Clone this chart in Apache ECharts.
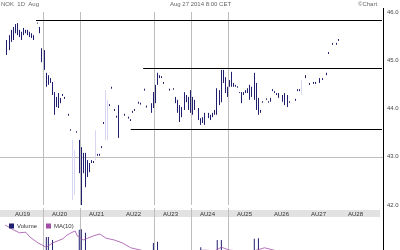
<!DOCTYPE html>
<html><head><meta charset="utf-8">
<script src="https://cdn.jsdelivr.net/npm/echarts@6/dist/echarts.min.js"></script>
<style>html,body{margin:0;padding:0;background:#fff}#c{width:400px;height:250px}</style>
</head><body><div id="c"></div>
<script>
// ---- data ----
const slotCount = 186;              // intraday time slots
const gridSlots = [21, 39, 75, 93, 111];
const dayLabels = ['AU19','AU20','AU21','AU22','AU23','AU24','AU25','AU26','AU27','AU28'];
const yTickLabels = {42:'42.0',43:'43.0',44:'44.0',45:'45.0',46:'46.0'};

const priceSlot = [3,4,5,6,7,8,9,10,11,12,13,14,15,16,18,19,20,21,22,23,24,25,26,27,28,29,30,31,33,34,37,
 38,39,40,41,42,43,44,45,47,48,49,50,53,54,55,56,57,60,62,63,64,65,67,68,70,71,73,74,75,76,77,78,79,82,84,
 85,86,87,88,89,90,91,92,93,94,96,97,98,99,101,102,103,104,105,106,107,108,109,110,111,112,113,114,115,116,
 117,118,119,120,121,122,123,124,125,126,127,129,130,131,132,133,134,135,137,138,139,140,143,144,145,148,
 150,152,153,155,156,158,159,161,163,164];
const priceLow = [45.11,45.21,45.38,45.42,45.56,45.52,45.48,45.42,45.52,45.56,45.52,45.48,45.46,45.42,45.76,45.56,44.96,44.80,44.45,44.49,44.53,44.28,43.87,44.03,44.01,44.11,44.26,44.20,43.85,43.54,43.50,
 42.66,42.00,42.66,42.37,42.58,42.68,42.87,42.87,43.02,43.02,43.18,43.68,44.05,44.41,43.95,43.81,43.39,43.85,43.79,43.74,43.91,43.95,44.10,44.08,44.37,44.02,43.91,44.01,44.11,44.49,44.63,44.63,44.51,44.37,44.39,
 44.11,43.91,43.72,43.82,43.97,44.13,43.97,43.91,43.87,43.97,43.76,43.66,43.70,43.66,43.80,43.76,43.82,43.87,43.87,44.07,44.13,44.53,44.32,44.24,44.45,44.45,44.45,44.45,44.43,44.32,
 44.11,44.28,44.32,44.32,44.18,44.24,44.18,43.97,43.87,43.91,44.12,44.18,44.12,44.14,44.36,44.32,44.28,44.22,44.14,44.07,44.03,44.12,44.16,44.36,44.36,44.63,
 44.49,44.51,44.51,44.53,44.59,44.69,45.13,45.32,45.32,45.40];
const priceHigh = [45.42,45.52,45.63,45.69,45.75,45.77,45.63,45.59,45.67,45.63,45.63,45.59,45.56,45.52,45.78,45.69,45.25,45.21,44.74,44.69,44.63,44.55,44.34,44.24,44.32,44.22,44.30,44.24,43.89,43.57,43.53,
 43.35,43.20,43.08,43.08,42.93,42.87,42.93,42.91,43.06,43.06,43.22,43.72,44.09,44.45,43.99,43.85,44.07,43.89,43.83,43.78,43.95,43.99,44.14,44.12,44.41,44.06,44.11,44.34,44.49,44.74,44.69,44.67,44.55,44.41,44.42,
 44.24,44.18,44.07,44.03,44.34,44.28,44.24,44.38,44.24,44.18,44.01,43.80,43.82,43.91,43.91,43.87,43.91,43.97,44.42,44.38,44.80,44.80,44.65,44.45,44.59,44.76,44.53,44.49,44.46,44.34,
 44.34,44.34,44.38,44.42,44.49,44.45,44.74,44.53,44.22,43.97,44.15,44.21,44.15,44.22,44.40,44.36,44.32,44.32,44.28,44.32,44.28,44.15,44.20,44.40,44.40,44.69,
 44.53,44.55,44.55,44.63,44.63,44.74,45.17,45.36,45.36,45.44];

// faint (light) price bars
const faintSlot = [35, 36, 46, 51, 52, 146];
const faintLow  = [42.10, 42.21, 42.93, 43.35, 43.35, 44.28];
const faintHigh = [43.35, 43.14, 43.55, 44.38, 44.18, 44.59];

// support / resistance levels
const levels = [
  {from: 17, value: 45.83},
  {from: 69, value: 44.84},
  {from: 63, value: 43.58}
];

// volume
const volSlot = [22, 23, 25, 38, 39, 41, 74, 76, 97, 105, 107, 123, 125];
const volValue = [80, 80, 75, 92, 93, 87, 70, 72, 63, 75, 75, 77, 78];
// moving average of volume
const maSlot = [2, 6, 9, 12, 14, 18, 22, 25, 30, 32, 34, 36, 37, 40, 42, 45, 48, 51, 55, 59, 63, 68, 72, 82, 99, 104, 107, 111, 121, 128, 136, 145, 165];
const maValue = [100, 92, 87, 88, 80, 70, 63, 70, 77, 83, 87, 90, 82, 75, 78, 82, 85, 78, 75, 70, 62, 58, 55, 55, 58, 57, 63, 58, 55, 62, 55, 50, 50];

// ---- build ----
const cats = Array.from({length: slotCount}, (_, i) => String(i));
function fillOHLC(slots, lo, hi) {
  const a = cats.map(() => '-');
  slots.forEach((s, i) => { a[s] = [lo[i], hi[i], lo[i], hi[i]]; });
  return a;
}
function fillVal(slots, vals) {
  const a = cats.map(() => null);
  slots.forEach((s, i) => { a[s] = vals[i]; });
  return a;
}
const navy = '#1f1f6e', faint = '#d6d6f2', purple = '#a24ea8', grid = '#bdbdbd';
const splitFn = (idx) => gridSlots.indexOf(idx) >= 0;
const font = 'Liberation Sans, Arial, sans-serif';

const chart = echarts.init(document.getElementById('c'), null, {renderer: 'canvas'});
chart.setOption({
  animation: false,
  textStyle: {fontFamily: font},
  grid: [
    {left: 0, width: 383, top: 12, height: 193, outerBoundsMode: 'none'},
    {left: 0, width: 383, top: 208, height: 77, outerBoundsMode: 'none'},
    {left: 4, width: 370, top: 206, height: 1, outerBoundsMode: 'none'}
  ],
  xAxis: [
    {type: 'category', gridIndex: 0, data: cats, boundaryGap: true,
     axisLine: {show: false}, axisTick: {show: false}, axisLabel: {show: false},
     splitLine: {show: true, interval: splitFn, lineStyle: {color: grid, width: 1}}},
    {type: 'category', gridIndex: 1, data: cats, boundaryGap: true,
     axisLine: {show: false}, axisTick: {show: false}, axisLabel: {show: false},
     splitLine: {show: true, interval: splitFn, lineStyle: {color: grid, width: 1}}},
    {type: 'category', gridIndex: 2, data: dayLabels, boundaryGap: true,
     axisLine: {show: false}, axisTick: {show: false},
     axisLabel: {show: true, fontSize: 6, color: '#333', margin: 4, fontFamily: font}}
  ],
  yAxis: [
    {type: 'value', gridIndex: 0, position: 'right', min: 42, max: 46, interval: 1,
     axisLine: {show: false}, axisTick: {show: false},
     axisLabel: {show: true, fontSize: 6, color: '#444', margin: 4, fontFamily: font,
       formatter: v => yTickLabels[v] || ''},
     splitLine: {show: true, lineStyle: {color: ['transparent', grid, 'transparent', 'transparent', 'transparent']}}},
    {type: 'value', gridIndex: 1, min: 0, max: 128.33, show: false, splitLine: {show: false}},
    {type: 'value', gridIndex: 2, show: false}
  ],
  legend: {
    left: 4, top: 218, itemWidth: 5, itemHeight: 5, itemGap: 9, icon: 'rect',
    textStyle: {fontSize: 6, color: '#333', padding: [0, 0, 0, -2]},
    data: ['Volume', 'MA(10)']
  },
  series: [
    {name: 'Price', type: 'candlestick', xAxisIndex: 0, yAxisIndex: 0, barWidth: 0.2,
     data: fillOHLC(faintSlot, faintLow, faintHigh),
     itemStyle: {color: faint, color0: faint, borderColor: faint, borderColor0: faint, borderWidth: 1}},
    {name: 'Price2', type: 'candlestick', xAxisIndex: 0, yAxisIndex: 0, barWidth: 0.2,
     data: fillOHLC(priceSlot, priceLow, priceHigh),
     itemStyle: {color: navy, color0: navy, borderColor: navy, borderColor0: navy, borderWidth: 1},
     markLine: {silent: true, symbol: 'none', animation: false,
       lineStyle: {color: '#000', width: 1.2, type: 'solid'}, label: {show: false},
       data: levels.map(l => [{coord: [l.from, l.value]}, {coord: [slotCount - 1, l.value]}])}},
    {name: 'Volume', type: 'bar', xAxisIndex: 1, yAxisIndex: 1, barWidth: 1,
     data: fillVal(volSlot, volValue), itemStyle: {color: navy}},
    {name: 'MA(10)', type: 'line', xAxisIndex: 1, yAxisIndex: 1, showSymbol: false, symbol: 'none',
     connectNulls: true, data: fillVal(maSlot, maValue), itemStyle: {color: purple},
     lineStyle: {color: purple, width: 0.8}}
  ],
  graphic: [
    {type: 'rect', z: -10, shape: {x: 0, y: 210, width: 380, height: 7}, style: {fill: '#e2e2e2'}},
    {type: 'line', z: 10, shape: {x1: 383.5, y1: 8, x2: 383.5, y2: 250}, style: {stroke: '#000', lineWidth: 1}},
    {type: 'text', left: 1, top: 1, style: {text: 'NOK  1D  Aug', fontSize: 6, fill: '#666', fontFamily: font}},
    {type: 'text', left: 170, top: 1, style: {text: 'Aug 27 2014 8:00 CET', fontSize: 6, fill: '#666', fontFamily: font}},
    {type: 'text', left: 358, top: 1, style: {text: '©Chart', fontSize: 6, fill: '#666', fontFamily: font}}
  ]
});
</script></body></html>
